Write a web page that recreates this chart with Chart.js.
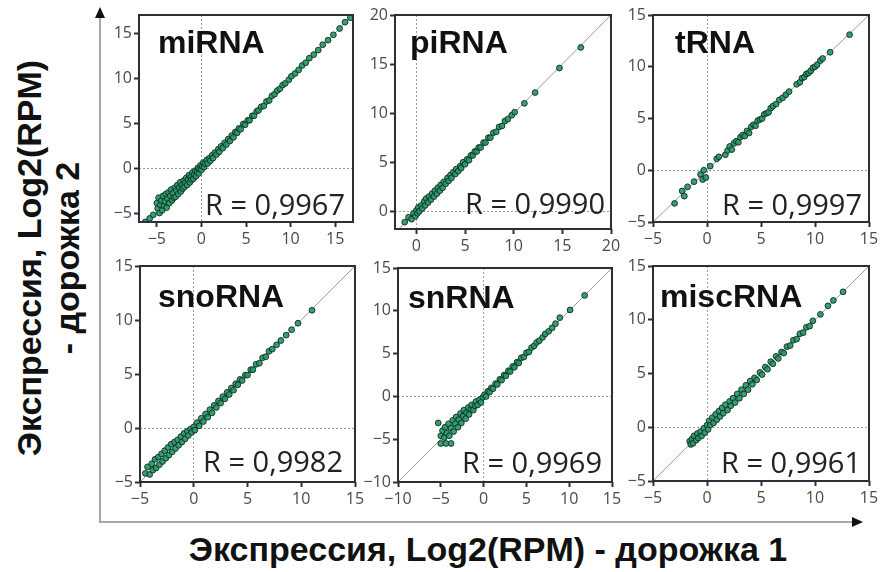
<!DOCTYPE html>
<html>
<head>
    <title>Экспрессия, Log2(RPM)</title>
    <script src="https://cdn.jsdelivr.net/npm/chart.js"></script>
    <style>
        body { margin: 0; background: #ffffff; }
        #wrap { position: relative; width: 882px; height: 572px; overflow: hidden; background: #fff; }
        #wrap canvas { position: absolute; }
        #vline { position: absolute; left: 99px; top: 16px; width: 2px; height: 507px; background: #a8a8a8; }
        #vhead { position: absolute; left: 95px; top: 7px; width: 0; height: 0;
                 border-left: 5px solid transparent; border-right: 5px solid transparent; border-bottom: 11px solid #111; }
        #hline { position: absolute; left: 99px; top: 521px; width: 755px; height: 2px; background: #a8a8a8; }
        #hhead { position: absolute; left: 852px; top: 517px; width: 0; height: 0;
                 border-top: 5px solid transparent; border-bottom: 5px solid transparent; border-left: 11px solid #111; }
        .title { position: absolute; font: bold 34px "Liberation Sans", Arial, sans-serif; color: #111; white-space: nowrap; }
        #xtitle { left: 488px; top: 532px; line-height: 34px; transform: translateX(-50%); }
        #ytitle { left: -182px; top: 220px; width: 460px; line-height: 38px; text-align: center; transform: rotate(-90deg); }
    </style>
</head>
<body>
<div id="wrap">
    <div id="vline"></div><div id="vhead"></div>
    <div id="hline"></div><div id="hhead"></div>
    <div id="xtitle" class="title">Экспрессия, Log2(RPM) - дорожка 1</div>
    <div id="ytitle" class="title">Экспрессия, Log2(RPM)<br>- дорожка 2</div>
</div>

<script>
// panel names and correlation labels
const panelNames = ['miRNA', 'piRNA', 'tRNA', 'snoRNA', 'snRNA', 'miscRNA'];
const rLabels = ['R = 0,9967', 'R = 0,9990', 'R = 0,9997', 'R = 0,9982', 'R = 0,9969', 'R = 0,9961'];

// axis limits (x and y), ticks every 5
const xLimits = [[-7, 17], [-2.2, 20], [-5, 15], [-5, 15], [-10, 15], [-5, 15]];
const yLimits = [[-6, 17], [-1.8, 20], [-5, 15], [-5, 15], [-10, 15], [-5, 15]];
const tickStep = 5;

// points: [lane 1, lane 2]
const miRNA = [[-6.3,-6.0],[-5.8,-5.6],[-5.4,-5.2],[-5.0,-3.9],[-4.9,-4.5],[-4.8,-3.3],[-4.7,-5.0],[-4.6,-4.1],[-4.5,-3.6],[-4.4,-4.7],
    [-4.3,-3.1],[-4.2,-4.2],[-4.1,-3.7],[-4.0,-2.9],[-3.9,-4.4],[-3.8,-3.4],[-3.7,-2.7],[-3.6,-3.9],[-3.5,-3.1],[-3.4,-2.4],
    [-3.3,-3.6],[-3.2,-2.8],[-3.1,-3.3],[-3.0,-2.2],[-2.9,-3.2],[-2.8,-2.5],[-2.7,-1.9],[-2.6,-2.9],[-2.5,-2.2],[-2.4,-1.6],
    [-2.3,-2.6],[-2.2,-1.9],[-2.1,-2.3],[-2.0,-1.4],[-1.9,-2.1],[-1.8,-1.6],[-1.7,-1.1],[-1.6,-1.9],[-1.5,-1.3],[-1.4,-0.8],
    [-1.3,-1.6],[-1.2,-1.0],[-1.1,-1.3],[-1.0,-0.5],[-0.9,-1.2],[-0.8,-0.7],[-0.7,-0.3],[-0.6,-0.9],[-0.5,-0.4],[-0.4,0.0],
    [-0.3,-0.6],[-0.2,-0.1],[-0.1,0.3],[0.0,-0.2],[0.1,0.2],[0.2,0.6],[0.3,0.1],[0.4,0.5],[0.6,0.9],[0.7,0.5],
    [0.9,1.1],[1.0,0.8],[1.2,1.4],[1.3,1.1],[1.5,1.7],[1.7,1.5],[1.9,2.1],[2.0,1.8],[2.2,2.4],[2.4,2.2],
    [2.6,2.8],[2.8,2.6],[3.0,3.2],[3.2,3.0],[3.4,3.6],[3.6,3.4],[3.8,4.0],[4.0,3.9],[4.2,4.4],[4.4,4.3],
    [4.7,4.9],[4.9,4.8],[5.2,5.3],[5.4,5.3],[5.7,5.8],[5.9,5.8],[6.2,6.3],[6.4,6.4],[6.7,6.8],[7.0,6.9],
    [7.3,7.4],[7.6,7.5],[7.9,8.0],[8.2,8.2],[8.5,8.6],[8.8,8.8],[9.1,9.2],[9.4,9.4],[9.8,9.8],[10.1,10.2],
    [10.5,10.5],[10.9,10.9],[11.3,11.4],[11.7,11.7],[12.1,12.2],[12.6,12.6],[13.1,13.1],[13.6,13.7],[14.2,14.2],[14.8,14.8],
    [15.5,15.5],[16.1,16.2],[16.7,16.7]];
const piRNA = [[-1.2,-1.1],[-0.8,-0.6],[-0.5,-0.8],[-0.3,-0.2],[-0.1,-0.5],[0.0,0.1],[0.1,-0.2],[0.2,0.4],[0.3,0.0],[0.5,0.6],
    [0.6,0.3],[0.8,1.0],[0.9,0.6],[1.0,1.3],[1.2,0.9],[1.3,1.5],[1.5,1.2],[1.6,1.8],[1.8,1.5],[1.9,2.1],
    [2.1,1.8],[2.2,2.4],[2.4,2.1],[2.5,2.7],[2.7,2.4],[2.8,3.0],[3.0,2.8],[3.2,3.4],[3.3,3.1],[3.5,3.7],
    [3.6,3.4],[3.8,4.0],[4.0,3.8],[4.1,4.3],[4.3,4.1],[4.5,4.6],[4.6,4.4],[4.8,5.0],[5.0,4.8],[5.2,5.3],
    [5.4,5.2],[5.6,5.7],[5.8,5.7],[6.0,6.1],[6.2,6.1],[6.4,6.5],[6.6,6.5],[6.9,7.0],[7.1,7.0],[7.4,7.5],
    [7.6,7.5],[7.9,8.0],[8.2,8.1],[8.5,8.6],[8.8,8.7],[9.1,9.2],[9.4,9.4],[9.8,9.8],[10.1,10.1],[11.1,11.0],
    [12.2,12.1],[14.7,14.6],[16.9,16.7]];
const tRNA = [[-3.0,-3.2],[-2.3,-2.0],[-2.1,-2.5],[-1.8,-1.6],[-1.2,-1.1],[-0.6,-0.4],[-0.4,-0.9],[-0.1,-0.7],[-0.3,0.0],[0.3,0.4],
    [0.9,1.1],[1.1,1.3],[1.7,1.5],[1.9,1.9],[2.1,2.3],[2.3,2.0],[2.5,2.6],[2.7,2.8],[2.9,2.7],[3.1,3.2],
    [3.3,3.4],[3.5,3.3],[3.7,3.8],[3.9,3.6],[4.1,4.2],[4.3,4.4],[4.5,4.3],[4.7,4.8],[4.9,4.9],[5.1,5.0],
    [5.3,5.4],[5.5,5.5],[5.7,5.6],[5.9,6.0],[6.1,6.2],[6.4,6.4],[6.7,6.8],[7.0,7.0],[7.3,7.3],[7.6,7.6],
    [8.3,8.3],[8.6,8.5],[8.8,8.9],[9.0,9.0],[9.2,9.3],[9.4,9.4],[9.6,9.6],[9.8,9.9],[10.0,10.0],[10.2,10.2],
    [10.5,10.6],[10.7,10.8],[11.4,11.4],[13.2,13.1]];
const snoRNA = [[-4.5,-4.2],[-4.3,-3.6],[-4.1,-4.3],[-3.9,-3.3],[-3.8,-3.9],[-3.6,-2.9],[-3.5,-3.7],[-3.3,-2.7],[-3.2,-3.4],[-3.0,-2.4],
    [-2.9,-3.1],[-2.7,-2.1],[-2.6,-2.8],[-2.4,-1.8],[-2.3,-2.5],[-2.1,-1.5],[-2.0,-2.2],[-1.8,-1.3],[-1.7,-1.9],[-1.5,-1.1],
    [-1.4,-1.6],[-1.2,-0.8],[-1.1,-1.3],[-0.9,-0.5],[-0.8,-1.0],[-0.6,-0.3],[-0.5,-0.7],[-0.3,-0.1],[-0.2,-0.4],[0.0,0.1],
    [0.1,-0.2],[0.3,0.5],[0.5,0.2],[0.7,0.9],[0.9,0.6],[1.1,1.3],[1.3,1.0],[1.5,1.7],[1.7,1.4],[1.9,2.1],
    [2.1,1.9],[2.3,2.5],[2.5,2.3],[2.7,2.9],[2.9,2.7],[3.1,3.3],[3.3,3.1],[3.5,3.7],[3.7,3.5],[3.9,4.1],
    [4.1,4.0],[4.3,4.5],[4.5,4.4],[4.8,4.9],[5.0,4.9],[5.3,5.4],[5.5,5.4],[5.8,5.9],[6.1,6.0],[6.4,6.5],
    [6.7,6.6],[7.0,7.1],[7.3,7.3],[7.7,7.7],[8.1,8.1],[8.6,8.6],[9.1,9.1],[9.7,9.7],[11.0,10.9]];
const snRNA = [[-5.3,-3.1],[-5.0,-5.5],[-4.4,-5.5],[-3.8,-5.5],[-5.0,-4.6],[-4.8,-4.0],[-4.6,-4.8],[-4.5,-3.6],[-4.3,-4.3],[-4.1,-3.2],
    [-4.0,-4.6],[-3.8,-3.7],[-3.6,-2.8],[-3.5,-4.1],[-3.3,-3.2],[-3.2,-2.4],[-3.0,-3.6],[-2.9,-2.7],[-2.7,-2.0],[-2.6,-3.1],
    [-2.4,-2.3],[-2.3,-1.6],[-2.1,-2.6],[-2.0,-1.9],[-1.8,-1.3],[-1.7,-2.1],[-1.5,-1.5],[-1.4,-1.0],[-1.2,-1.6],[-1.0,-1.1],
    [-0.9,-0.6],[-0.7,-1.0],[-0.5,-0.4],[-0.3,-0.7],[-0.1,-0.1],[0.1,0.2],[0.3,0.0],[0.5,0.6],[0.7,0.5],[0.9,1.0],
    [1.1,0.9],[1.4,1.5],[1.6,1.4],[1.9,2.0],[2.1,1.9],[2.4,2.5],[2.6,2.4],[2.9,3.0],[3.1,2.9],[3.4,3.5],
    [3.6,3.4],[3.9,4.0],[4.1,3.9],[4.4,4.5],[4.7,4.6],[5.0,5.1],[5.3,5.2],[5.6,5.7],[5.9,5.9],[6.2,6.3],
    [6.5,6.5],[6.9,6.9],[7.2,7.3],[7.6,7.6],[8.0,8.0],[8.4,8.5],[8.9,9.2],[10.1,10.1],[11.8,11.8]];
const miscRNA = [[-1.6,-1.3],[-1.5,-1.6],[-1.4,-1.1],[-1.3,-1.5],[-1.2,-0.8],[-1.0,-1.2],[-0.9,-0.6],[-0.8,-1.0],[-0.6,-0.4],[-0.5,-0.8],
    [-0.3,-0.1],[-0.2,-0.5],[0.0,0.2],[0.1,-0.2],[0.2,0.6],[0.3,0.2],[0.5,0.9],[0.6,0.4],[0.8,1.2],[0.9,0.7],
    [1.1,1.5],[1.2,1.0],[1.4,1.8],[1.5,1.3],[1.7,2.1],[1.9,1.6],[2.1,2.4],[2.2,2.0],[2.4,2.7],[2.6,2.3],
    [2.8,3.1],[3.0,2.7],[3.2,3.5],[3.4,3.1],[3.6,3.9],[3.8,3.5],[4.0,4.3],[4.2,4.0],[4.4,4.6],[4.6,4.4],
    [4.9,5.1],[5.1,4.9],[5.4,5.6],[5.6,5.4],[5.9,6.1],[6.1,5.9],[6.4,6.6],[6.6,6.4],[6.9,7.0],[7.1,6.9],
    [7.4,7.5],[7.7,7.6],[8.0,8.1],[8.3,8.2],[8.6,8.7],[8.9,8.8],[9.2,9.3],[9.5,9.4],[9.8,9.9],[10.5,10.5],
    [11.2,11.3],[11.7,11.8],[12.6,12.6]];
const panelPoints = [miRNA, piRNA, tRNA, snoRNA, snRNA, miscRNA];

// plot boxes on the page [left, top, right, bottom] and text offsets
const boxes = [[139, 15, 353, 222], [395, 15, 611, 229], [653, 15, 869, 222],
               [140, 266, 355, 482], [398, 268, 612, 482], [653, 266, 869, 481]];
const nameOffsets = [[19, 38], [15, 38], [22, 38], [18, 41], [10, 40], [7, 41]];
const rOffsets = [[8, 7], [6, 15], [7, 7], [12, 10], [10, 9], [8, 8]];

const AXW = 44, AXH = 34, PADT = 12, PADR = 14;
const frameColor = '#2e2e3a';

const panelPlugin = {
    id: 'panel',
    afterDraw(chart) {
        const o = chart.options.plugins.panel;
        const a = chart.chartArea;
        const ctx = chart.ctx;
        ctx.save();
        ctx.strokeStyle = frameColor;
        ctx.lineWidth = 2;
        ctx.strokeRect(a.left, a.top, a.right - a.left, a.bottom - a.top);
        ctx.fillStyle = '#111';
        ctx.textBaseline = 'alphabetic';
        ctx.textAlign = 'left';
        ctx.font = 'bold 32px "Liberation Sans", Arial, sans-serif';
        ctx.fillText(o.name, a.left + o.nameOff[0], a.top + o.nameOff[1]);
        ctx.fillStyle = '#222';
        ctx.textAlign = 'right';
        ctx.font = '29px "Open Sans", sans-serif';
        ctx.fillText(o.r, a.right - o.rOff[0], a.bottom - o.rOff[1]);
        ctx.restore();
    }
};

function axis(lim, pos) {
    return {
        type: 'linear',
        position: pos,
        min: lim[0],
        max: lim[1],
        ticks: {
            stepSize: tickStep,
            includeBounds: false,
            autoSkip: false,
            maxRotation: 0,
            padding: pos === 'left' ? 2 : 3,
            color: '#4a4a4a',
            font: { family: 'Open Sans', size: 16 },
            callback: v => v < 0 ? '\u2212' + Math.abs(v) : String(v)
        },
        grid: {
            color: c => (c.tick && c.tick.value === 0) ? '#9c9c9c' : 'rgba(0,0,0,0)',
            lineWidth: 1,
            tickLength: 5,
            tickColor: frameColor,
            tickWidth: 2
        },
        border: { display: false, dash: [2, 2] },
        afterFit: s => { if (pos === 'left') s.width = AXW; else s.height = AXH; }
    };
}

const wrap = document.getElementById('wrap');
boxes.forEach((b, i) => {
    const [L, T, R, B] = b;
    const c = document.createElement('canvas');
    c.width = R - L + AXW + PADR;
    c.height = B - T + PADT + AXH;
    c.style.left = (L - AXW) + 'px';
    c.style.top = (T - PADT) + 'px';
    wrap.appendChild(c);

    const lo = Math.min(xLimits[i][0], yLimits[i][0]);
    const hi = Math.max(xLimits[i][1], yLimits[i][1]);

    new Chart(c, {
        type: 'scatter',
        data: {
            datasets: [{
                data: panelPoints[i].map(p => ({ x: p[0], y: p[1] })),
                pointRadius: 2.9,
                pointBackgroundColor: 'rgba(40,152,104,0.92)',
                pointBorderColor: 'rgba(14,44,32,0.9)',
                pointBorderWidth: 1,
                order: 1
            }, {
                data: [{ x: lo, y: lo }, { x: hi, y: hi }],
                showLine: true,
                borderColor: '#9a9a9a',
                borderWidth: 1,
                pointRadius: 0,
                order: 2
            }]
        },
        options: {
            responsive: false,
            animation: false,
            layout: { padding: { left: 0, top: PADT, right: PADR, bottom: 0 } },
            scales: { x: axis(xLimits[i], 'bottom'), y: axis(yLimits[i], 'left') },
            plugins: {
                legend: { display: false },
                tooltip: { enabled: false },
                panel: { name: panelNames[i], r: rLabels[i], nameOff: nameOffsets[i], rOff: rOffsets[i] }
            }
        },
        plugins: [panelPlugin]
    });
});
</script>

</body>
</html>
